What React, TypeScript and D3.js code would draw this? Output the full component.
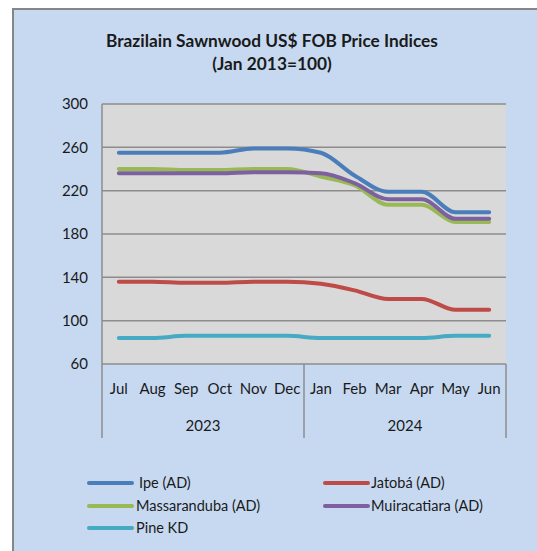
import React from 'react';
import * as d3 from 'd3';

// Month categories and year groups
const months = ['Jul', 'Aug', 'Sep', 'Oct', 'Nov', 'Dec', 'Jan', 'Feb', 'Mar', 'Apr', 'May', 'Jun'];
const years = ['2023', '2024'];
const yTicks = [60, 100, 140, 180, 220, 260, 300];

// Series values
const ipe = [255, 255, 255, 255, 259, 259, 255, 234, 219, 219, 200, 200];
const jatoba = [136, 136, 135, 135, 136, 136, 134, 128, 120, 120, 110, 110];
const massaranduba = [240, 240, 239, 239, 240, 240, 233, 225, 207, 207, 191, 191];
const muiracatiara = [236, 236, 236, 236, 237, 237, 236, 227, 212, 212, 194, 194];
const pineKd = [84, 84, 86, 86, 86, 86, 84, 84, 84, 84, 86, 86];

const seriesNames = ['Ipe (AD)', 'Jatobá (AD)', 'Massaranduba (AD)', 'Muiracatiara (AD)', 'Pine KD'];
const seriesColors = ['#4A7EBB', '#BE4B48', '#98B954', '#7D60A0', '#46AAC5'];

const App = () => {
  const width = 537;
  const height = 551;
  const plot = { left: 102, right: 506, top: 104, bottom: 364 };
  const font = 'Lato, "Open Sans", sans-serif';

  const x = d3.scaleBand().domain(months.map((m, i) => `${i}`)).range([plot.left, plot.right]);
  const y = d3.scaleLinear().domain([60, 300]).range([plot.bottom, plot.top]);

  const line = d3.line<number>()
    .x((d, i) => (x(`${i}`) as number) + x.bandwidth() / 2)
    .y(d => y(d))
    .curve(d3.curveMonotoneX);

  const series = [ipe, jatoba, massaranduba, muiracatiara, pineKd];

  const legendPos = [
    { lx: 89, ly: 483, tx: 139 },
    { lx: 325, ly: 483, tx: 371 },
    { lx: 89, ly: 506, tx: 136 },
    { lx: 325, ly: 506, tx: 371 },
    { lx: 89, ly: 528, tx: 136 },
  ];

  return (
    <svg width={width} height={height} style={{ position: 'absolute', left: 0, top: 0, fontFamily: font }}>
      <rect x={0} y={0} width={width} height={height} fill="#ffffff" />
      <rect x={13} y={9} width={width + 10} height={height + 10} fill="#C6D9F1" stroke="#868686" strokeWidth={2} />

      <text x={272} y={47} textAnchor="middle" fontSize={17.3} fontWeight="bold" fill="#1a1a1a">
        Brazilain Sawnwood US$ FOB Price Indices
      </text>
      <text x={272} y={70} textAnchor="middle" fontSize={17.3} fontWeight="bold" fill="#1a1a1a">
        (Jan 2013=100)
      </text>

      <rect x={plot.left} y={plot.top} width={plot.right - plot.left} height={plot.bottom - plot.top} fill="#D9D9D9" />

      {yTicks.map(t => (
        <g key={t}>
          <line x1={plot.left} x2={plot.right} y1={y(t)} y2={y(t)} stroke="#8C8C8C" strokeWidth={1.5} />
          <text x={88} y={y(t)} dy="0.35em" textAnchor="end" fontSize={15} fill="#1a1a1a">{t}</text>
        </g>
      ))}

      {/* value axis line */}
      <line x1={plot.left} x2={plot.left} y1={plot.top} y2={plot.bottom} stroke="#8C8C8C" strokeWidth={1.5} />
      {/* category group dividers below the plot */}
      {[0, 6, 12].map(i => {
        const xx = i === 12 ? plot.right : (x(`${i}`) as number);
        return <line key={i} x1={xx} x2={xx} y1={plot.bottom} y2={438} stroke="#8C8C8C" strokeWidth={1.5} />;
      })}

      {months.map((m, i) => (
        <text key={m} x={(x(`${i}`) as number) + x.bandwidth() / 2} y={389} dy="0.35em" textAnchor="middle" fontSize={15} fill="#1a1a1a">{m}</text>
      ))}
      {years.map((yr, k) => (
        <text key={yr} x={(x(`${k * 6}`) as number) + x.bandwidth() * 3} y={426} dy="0.35em" textAnchor="middle" fontSize={15} fill="#1a1a1a">{yr}</text>
      ))}

      {series.map((s, k) => (
        <path key={k} d={line(s) || ''} fill="none" stroke={seriesColors[k]} strokeWidth={4} strokeLinecap="round" strokeLinejoin="round" />
      ))}

      {seriesNames.map((name, k) => (
        <g key={name}>
          <line x1={legendPos[k].lx} x2={legendPos[k].lx + 43} y1={legendPos[k].ly} y2={legendPos[k].ly} stroke={seriesColors[k]} strokeWidth={4} strokeLinecap="round" />
          <text x={legendPos[k].tx} y={legendPos[k].ly} dy="0.35em" fontSize={14.5} fill="#1a1a1a">{name}</text>
        </g>
      ))}
    </svg>
  );
};

export default App;
